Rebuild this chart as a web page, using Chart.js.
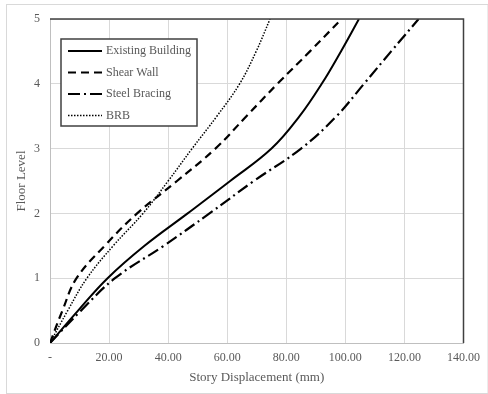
<!DOCTYPE html>
<html>
<head>
<meta charset="utf-8">
<script src="https://cdn.jsdelivr.net/npm/chart.js@4/dist/chart.umd.min.js"></script>
<style>
  html, body { margin: 0; padding: 0; background: #fff; }
</style>
</head>
<body>
<canvas id="chart" width="488" height="394"></canvas>
<script>
// values (displacement in mm at each half floor)
const seriesNames = ["Existing Building", "Shear Wall", "Steel Bracing", "BRB"];
const floorLevels = [0, 0.5, 1, 1.5, 2, 2.5, 3, 3.5, 4, 4.5, 5];

const existingX = [0, 9.5, 19.5, 32, 46.6, 61, 75, 84.5, 92, 98.5, 104.6];
const shearX = [0, 4.2, 9, 18.5, 29.5, 43, 56, 66.5, 77, 88, 98.7];
const steelX = [0, 10.5, 22, 38.5, 54, 69, 85, 97, 106.3, 115.5, 124.8];
const brbX = [0, 6, 12.5, 21.4, 31.5, 40, 48.1, 56.5, 64.2, 69.8, 74.5];

const xTicks = [0, 20, 40, 60, 80, 100, 120, 140];
const yTicks = [0, 1, 2, 3, 4, 5];

const serif = "'Liberation Serif', 'Times New Roman', serif";
const textGray = "#595959";

function toPoints(xs, ys) {
  return xs.map((x, i) => ({ x: x, y: ys[i] }));
}

function makeSet(label, xs, dash, width) {
  return {
    label: label,
    data: toPoints(xs, floorLevels),
    borderColor: "#000",
    borderWidth: width,
    borderDash: dash,
    borderCapStyle: "butt",
    pointRadius: 0,
    showLine: true,
    fill: false,
    tension: 0.4,
  };
}

// outer frame, dark top/right plot border and the boxed legend
const framePlugin = {
  id: "framePlugin",
  beforeDraw(chart) {
    const ctx = chart.ctx;
    ctx.save();
    ctx.strokeStyle = "#d9d9d9";
    ctx.lineWidth = 1;
    ctx.strokeRect(6.5, 4.5, chart.width - 6.5, chart.height - 5);
    ctx.restore();
  },
  afterDatasetsDraw(chart) {
    const ctx = chart.ctx;
    const a = chart.chartArea;
    ctx.save();
    ctx.strokeStyle = "#404040";
    ctx.lineWidth = 1.5;
    ctx.beginPath();
    ctx.moveTo(a.left, a.top);
    ctx.lineTo(a.right, a.top);
    ctx.lineTo(a.right, a.bottom);
    ctx.stroke();

    // legend
    const bx = a.left + 11;
    const by = a.top + 20;
    const bw = 136;
    const bh = 87;
    ctx.fillStyle = "#fff";
    ctx.fillRect(bx, by, bw, bh);
    ctx.strokeStyle = "#404040";
    ctx.lineWidth = 1.5;
    ctx.strokeRect(bx, by, bw, bh);

    ctx.font = "12px " + serif;
    ctx.textBaseline = "middle";
    ctx.textAlign = "left";
    chart.data.datasets.forEach((ds, i) => {
      const cy = by + 12 + i * 21.5;
      ctx.strokeStyle = ds.borderColor;
      ctx.lineWidth = ds.borderWidth;
      ctx.setLineDash(ds.borderDash);
      ctx.beginPath();
      ctx.moveTo(bx + 7, cy);
      ctx.lineTo(bx + 41, cy);
      ctx.stroke();
      ctx.setLineDash([]);
      ctx.fillStyle = textGray;
      ctx.fillText(ds.label, bx + 45, cy);
    });
    ctx.restore();
  },
};

let chart1 = new Chart(document.querySelector("#chart"), {
  type: "scatter",
  data: {
    datasets: [
      makeSet(seriesNames[0], existingX, [], 2),
      makeSet(seriesNames[1], shearX, [8, 5], 2.2),
      makeSet(seriesNames[2], steelX, [12, 4, 2, 4], 2.2),
      makeSet(seriesNames[3], brbX, [1.5, 1.5], 1.5),
    ],
  },
  options: {
    responsive: false,
    animation: false,
    layout: { padding: { left: 10, right: 23, top: 19, bottom: 5 } },
    plugins: {
      legend: { display: false },
      tooltip: { enabled: false },
    },
    scales: {
      x: {
        type: "linear",
        min: xTicks[0],
        max: xTicks[xTicks.length - 1],
        afterBuildTicks: (s) => { s.ticks = xTicks.map((v) => ({ value: v })); },
        afterFit: (s) => { s.height = 46; },
        grid: { color: "#d9d9d9", drawTicks: false },
        border: { color: "#bfbfbf" },
        ticks: {
          padding: 8,
          color: textGray,
          font: { family: serif, size: 12 },
          callback: (v) => (v === 0 ? "-" : v.toFixed(2)),
        },
        title: {
          display: true,
          text: "Story Displacement (mm)",
          color: textGray,
          font: { family: serif, size: 13 },
        },
      },
      y: {
        type: "linear",
        min: yTicks[0],
        max: yTicks[yTicks.length - 1],
        afterBuildTicks: (s) => { s.ticks = yTicks.map((v) => ({ value: v })); },
        afterFit: (s) => { s.width = 40; },
        grid: { color: "#d9d9d9", drawTicks: false },
        border: { color: "#bfbfbf" },
        ticks: {
          padding: 10,
          color: textGray,
          font: { family: serif, size: 12 },
        },
        title: {
          display: true,
          text: "Floor Level",
          color: textGray,
          font: { family: serif, size: 13 },
        },
      },
    },
  },
  plugins: [framePlugin],
});
</script>
</body>
</html>
